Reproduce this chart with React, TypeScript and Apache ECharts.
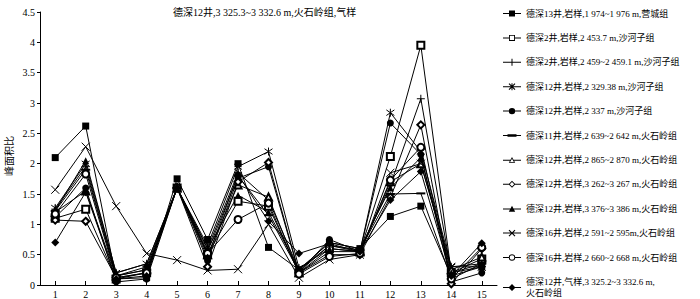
import React, { useEffect, useRef } from "react";
import * as echarts from "echarts";

const categories = ["1", "2", "3", "4", "5", "6", "7", "8", "9", "10", "11", "12", "13", "14", "15"];
const yTicks = { min: 0, max: 4.5, interval: 0.5 };

const seriesNames = [
  "德深13井,岩样,1 974~1 976 m,营城组",
  "德深2井,岩样,2 453.7 m,沙河子组",
  "德深2井,岩样,2 459~2 459.1 m,沙河子组",
  "德深12井,岩样,2 329.38 m,沙河子组",
  "德深12井,岩样,2 337 m,沙河子组",
  "德深11井,岩样,2 639~2 642 m,火石岭组",
  "德深12井,岩样,2 865~2 870 m,火石岭组",
  "德深12井,岩样,3 262~3 267 m,火石岭组",
  "德深12井,岩样,3 376~3 386 m,火石岭组",
  "德深16井,岩样,2 591~2 595m,火石岭组",
  "德深16井,岩样,2 660~2 668 m,火石岭组",
  "德深12井,气样,3 325.2~3 332.6 m,\n火石岭组",
];

const s1 = [2.1, 2.62, 0.1, 0.12, 1.75, 0.75, 2.0, 0.62, 0.25, 0.7, 0.6, 1.13, 1.3, 0.15, 0.3];
const s2 = [1.1, 1.25, 0.1, 0.2, 1.6, 0.5, 1.38, 1.3, 0.2, 0.6, 0.55, 2.12, 3.95, 0.2, 0.43];
const s3 = [1.25, 1.95, 0.15, 0.3, 1.6, 0.6, 1.85, 1.4, 0.25, 0.65, 0.55, 1.65, 3.07, 0.2, 0.3];
const s4 = [1.27, 2.0, 0.2, 0.35, 1.6, 0.65, 1.95, 2.2, 0.28, 0.6, 0.55, 2.84, 2.2, 0.3, 0.35];
const s5 = [1.12, 1.6, 0.05, 0.1, 1.6, 0.4, 1.76, 1.95, 0.2, 0.75, 0.55, 2.67, 2.15, 0.05, 0.2];
const s6 = [1.22, 1.9, 0.15, 0.25, 1.6, 0.55, 1.8, 1.15, 0.22, 0.65, 0.58, 1.5, 1.51, 0.1, 0.35];
const s7 = [1.2, 1.55, 0.15, 0.25, 1.6, 0.5, 1.65, 1.45, 0.2, 0.55, 0.55, 1.7, 2.0, 0.25, 0.46];
const s8 = [1.07, 1.05, 0.12, 0.2, 1.6, 0.3, 1.7, 2.02, 0.2, 0.5, 0.5, 1.45, 2.64, 0.02, 0.6];
const s9 = [1.22, 2.05, 0.2, 0.35, 1.6, 0.6, 1.48, 1.2, 0.25, 0.7, 0.6, 1.6, 2.1, 0.2, 0.35];
const s10 = [1.57, 2.28, 1.3, 0.52, 0.41, 0.24, 0.26, 1.0, 0.12, 0.42, 0.5, 1.85, 2.0, 0.3, 0.3];
const s11 = [1.17, 1.83, 0.12, 0.2, 1.6, 0.52, 1.08, 1.35, 0.18, 0.47, 0.52, 1.73, 2.27, 0.1, 0.62];
const s12 = [0.7, 1.53, 0.1, 0.15, 1.6, 0.45, 1.82, 1.05, 0.52, 0.68, 0.55, 1.4, 1.87, 0.15, 0.69];

const seriesValues = [s1, s2, s3, s4, s5, s6, s7, s8, s9, s10, s11, s12];

const PLUS = "path://M0,5L10,5M5,0L5,10";
const ASTER = "path://M1.5,1.5L8.5,8.5M8.5,1.5L1.5,8.5M5,0L5,10";
const CROSS = "path://M0,0L10,10M10,0L0,10";
const DASH = "path://M0,0H10V2.5H0Z";

const symbols: any[] = [
  { symbol: "rect", size: 7 },
  { symbol: "emptyRect", size: 7 },
  { symbol: PLUS, size: 8, stroke: true },
  { symbol: ASTER, size: 8, stroke: true },
  { symbol: "circle", size: 7 },
  { symbol: DASH, size: [9, 2] },
  { symbol: "emptyTriangle", size: 7 },
  { symbol: "emptyDiamond", size: 7 },
  { symbol: "triangle", size: 7 },
  { symbol: CROSS, size: 8, stroke: true },
  { symbol: "emptyCircle", size: 7 },
  { symbol: "diamond", size: 8 },
];

// legend icons: line + marker drawn as filled outlines in an 18x7 box
const LINE = "M0,3H18V4H0Z";
const LSEG = "M0,3H6.2V4H0Z M11.8,3H18V4H11.8Z";
const DIAG =
  "M5.6,0.9L6.4,0.1L12.4,6.1L11.6,6.9Z M11.6,0.1L12.4,0.9L6.4,6.9L5.6,6.1Z";
const legendIcons = [
  "path://M0,3H6V0.5H12V3H18V4H12V6.5H6V4H0Z",
  "path://M0,3H6V0.5H12V3H18V4H12V6.5H6V4H0Z M6.9,1.4V5.6H11.1V1.4Z",
  "path://" + LINE + " M8.5,0H9.5V7H8.5Z",
  "path://" + LINE + " M8.5,0H9.5V7H8.5Z " + DIAG,
  "path://" + LINE + " M12.2,3.5A3.2,3.2 0 1 1 5.8,3.5A3.2,3.2 0 1 1 12.2,3.5Z",
  "path://M0,3H4.5V2.2H13.5V3H18V4H13.5V4.8H4.5V4H0Z M0,0.01H0.01V0.02Z M0,6.99H0.01V7Z",
  "path://M0,3H7.4V4H0Z M10.6,3H18V4H10.6Z M9,0.3L12.2,6.2L5.8,6.2Z M9,2L7.1,5.4L10.9,5.4Z",
  "path://" + LSEG + " M9,0L12.5,3.5L9,7L5.5,3.5Z M9,1.3L6.8,3.5L9,5.7L11.2,3.5Z",
  "path://" + LINE + " M9,0.3L12.2,6.2L5.8,6.2Z",
  "path://" + LINE + " " + DIAG,
  "path://" + LSEG + " M12.2,3.5A3.2,3.2 0 1 1 5.8,3.5A3.2,3.2 0 1 1 12.2,3.5Z M11.3,3.5A2.3,2.3 0 1 0 6.7,3.5A2.3,2.3 0 1 0 11.3,3.5Z",
  "path://" + LINE + " M9,0L12.5,3.5L9,7L5.5,3.5Z",
];

const FONT = "'Liberation Serif', 'Noto Sans CJK SC', serif";

export default function App() {
  const ref = useRef<HTMLDivElement>(null);
  useEffect(() => {
    if (!ref.current) return;
    const chart = echarts.init(ref.current, undefined, { renderer: "svg" });
    const series = seriesNames.map((name, i) => {
      const s = symbols[i];
      return {
        name,
        type: "line",
        data: seriesValues[i],
        symbol: s.symbol,
        symbolSize: s.size,
        showAllSymbol: true,
        lineStyle: { color: "#000", width: 1 },
        itemStyle: s.stroke
          ? { color: "#000", borderColor: "#000", borderWidth: 1 }
          : { color: "#000" },
        emphasis: { disabled: true },
      };
    });
    chart.setOption({
      animation: false,
      backgroundColor: "#fff",
      textStyle: { fontFamily: FONT, color: "#000" },
      title: {
        text: "德深12井,3 325.3~3 332.6 m,火石岭组,气样",
        left: 168,
        top: 2,
        textStyle: { fontFamily: FONT, fontSize: 10, fontWeight: "normal", color: "#000" },
      },
      grid: { left: 40, right: 203, top: 12, bottom: 13, containLabel: false },
      legend: {
        orient: "vertical",
        left: 503,
        top: 8,
        height: 300,
        padding: 0,
        itemWidth: 18,
        itemHeight: 7,
        itemGap: 13.4,
        selectedMode: false,
        itemStyle: { color: "#000", borderWidth: 0 },
        textStyle: { fontFamily: FONT, fontSize: 9, color: "#000", lineHeight: 11 },
        data: seriesNames.map((name, i) => ({ name, icon: legendIcons[i] })),
      },
      xAxis: {
        type: "category",
        data: categories,
        boundaryGap: true,
        axisLine: { show: true, lineStyle: { color: "#000", width: 1 } },
        axisTick: { show: true, inside: true, length: 4, alignWithLabel: true, lineStyle: { color: "#000" } },
        axisLabel: { fontFamily: FONT, fontSize: 10, color: "#000", margin: 4 },
        splitLine: { show: false },
      },
      yAxis: {
        type: "value",
        min: yTicks.min,
        max: yTicks.max,
        interval: yTicks.interval,
        axisLine: { show: true, lineStyle: { color: "#000", width: 1 } },
        axisTick: { show: true, inside: false, length: 3, lineStyle: { color: "#000" } },
        axisLabel: { fontFamily: FONT, fontSize: 10, color: "#000", margin: 5 },
        splitLine: { show: false },
      },
      graphic: [
        {
          type: "text",
          x: 9,
          y: 156,
          rotation: Math.PI / 2,
          style: {
            text: "峰面积比",
            fontFamily: FONT,
            fontSize: 10,
            fill: "#000",
            textAlign: "center",
            textVerticalAlign: "middle",
          },
        },
      ],
      series,
    });
    return () => chart.dispose();
  }, []);
  return (
    <div
      ref={ref}
      style={{ position: "fixed", left: 0, top: 0, width: 700, height: 299 }}
    />
  );
}
